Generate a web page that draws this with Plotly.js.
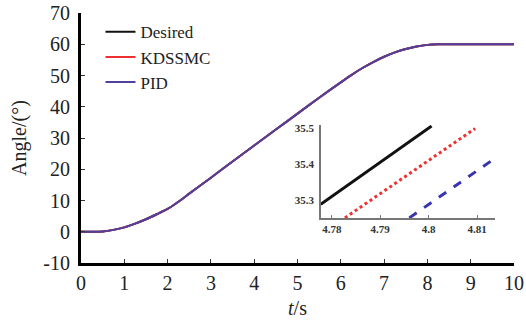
<!DOCTYPE html>
<html><head><meta charset="utf-8">
<script src="https://cdn.plot.ly/plotly-3.0.1.min.js"></script>
<style>html,body{margin:0;padding:0;background:#fff}#c{width:526px;height:324px}</style>
</head><body><div id="c"></div>
<script>
// Main chart: time (s) and angle (deg)
const timeMain = [0,0.25,0.5,0.75,1,1.25,1.5,1.75,2,2.25,2.5,3,3.5,4,4.5,5,5.5,6,6.25,6.5,6.75,7,7.25,7.5,7.75,8,8.25,8.5,9,9.5,10];
const desiredMain = [0,0,0.1,0.6,1.4,2.6,4.0,5.6,7.3,9.6,12.2,17.3,22.5,27.6,32.7,37.8,42.9,47.8,50.2,52.4,54.3,56.0,57.4,58.5,59.3,59.8,60,60,60,60,60];
// The controller responses are indistinguishable from the desired curve at this scale
const kdssmcMain = [0,0,0.1,0.6,1.4,2.6,4.0,5.6,7.3,9.6,12.2,17.3,22.5,27.6,32.7,37.8,42.9,47.8,50.2,52.4,54.3,56.0,57.4,58.5,59.3,59.8,60,60,60,60,60];
const pidMain = [0,0,0.1,0.6,1.4,2.6,4.0,5.6,7.3,9.6,12.2,17.3,22.5,27.6,32.7,37.8,42.9,47.8,50.2,52.4,54.3,56.0,57.4,58.5,59.3,59.8,60,60,60,60,60];

// Inset (zoomed) data
const desiredInsetT = [4.7777, 4.8006];
const desiredInsetV = [35.288, 35.507];
const kdssmcInsetT = [4.7827, 4.8096];
const kdssmcInsetV = [35.25, 35.50];
const pidInsetT = [4.7960, 4.8133];
const pidInsetV = [35.25, 35.413];

const names = ['Desired','KDSSMC','PID'];
const xTicks = [0,1,2,3,4,5,6,7,8,9,10];
const yTicks = [-10,0,10,20,30,40,50,60,70];
const xTicksInset = [4.78,4.79,4.8,4.81];
const yTicksInset = [35.3,35.4,35.5];

const cBlack='#111111', cRed='#ee3030', cBlue='#3b34b0', cPurple='#50409e';
const serif = 'Liberation Serif';

const traces = [
 {x:timeMain,y:desiredMain,name:names[0],mode:'lines',line:{color:cBlack,width:2,shape:'spline',smoothing:0.6},xaxis:'x',yaxis:'y'},
 {x:timeMain,y:kdssmcMain,name:names[1],mode:'lines',line:{color:cRed,width:2,shape:'spline',smoothing:0.6},xaxis:'x',yaxis:'y'},
 {x:timeMain,y:pidMain,name:names[2],mode:'lines',line:{color:cPurple,width:2,shape:'spline',smoothing:0.6},xaxis:'x',yaxis:'y'},
 {x:desiredInsetT,y:desiredInsetV,showlegend:false,mode:'lines',line:{color:cBlack,width:3},xaxis:'x2',yaxis:'y2'},
 {x:kdssmcInsetT,y:kdssmcInsetV,showlegend:false,mode:'lines',line:{color:cRed,width:3,dash:'dot'},xaxis:'x2',yaxis:'y2'},
 {x:pidInsetT,y:pidInsetV,showlegend:false,mode:'lines',line:{color:cBlue,width:3,dash:'dash'},xaxis:'x2',yaxis:'y2'}
];

const layout = {
 width:526,height:324,
 margin:{l:81,r:12,t:13,b:61},
 paper_bgcolor:'#fff',plot_bgcolor:'rgba(0,0,0,0)',
 font:{family:serif,size:17,color:'#222'},
 showlegend:true,
 legend:{x:0.045,y:0.995,xanchor:'left',yanchor:'top',bgcolor:'rgba(0,0,0,0)',
   font:{family:serif,size:17,color:'#222'},tracegroupgap:0,itemwidth:30},
 xaxis:{range:[0,10],domain:[0,1],tickvals:xTicks,ticktext:xTicks.map(String),ticks:'inside',ticklen:4,tickwidth:1,tickcolor:'#333',
   showline:true,linecolor:'#000',linewidth:3,zeroline:false,showgrid:false,
   tickfont:{family:serif,size:20,color:'#222'},
   title:{text:'<i>t</i>/s',font:{family:serif,size:20,color:'#222'},standoff:8}},
 yaxis:{range:[-10,70],domain:[0,1],tickvals:yTicks,ticktext:yTicks.map(String),ticks:'inside',ticklen:4,tickwidth:1,tickcolor:'#333',
   showline:true,linecolor:'#000',linewidth:3,zeroline:false,showgrid:false,
   tickfont:{family:serif,size:20,color:'#222'},ticklabelstandoff:4,
   title:{text:'Angle/(°)',font:{family:serif,size:20,color:'#222'},standoff:12}},
 xaxis2:{range:[4.7777,4.8137],domain:[0.5536,0.956],anchor:'y2',tickvals:xTicksInset,ticktext:xTicksInset.map(String),
   ticks:'inside',ticklen:3,tickcolor:'#777',showline:true,linecolor:'#777',linewidth:1.5,zeroline:false,showgrid:false,
   tickfont:{family:serif,size:11,color:'#333',weight:'bold'}},
 yaxis2:{range:[35.249,35.51],domain:[0.179,0.552],anchor:'x2',tickvals:yTicksInset,ticktext:yTicksInset.map(String),
   ticks:'',showline:true,linecolor:'#777',linewidth:1.5,zeroline:false,showgrid:false,
   tickfont:{family:serif,size:11,color:'#333',weight:'bold'},ticklabelstandoff:3}
};
Plotly.newPlot('c',traces,layout,{displayModeBar:false,staticPlot:true});
</script></body></html>
